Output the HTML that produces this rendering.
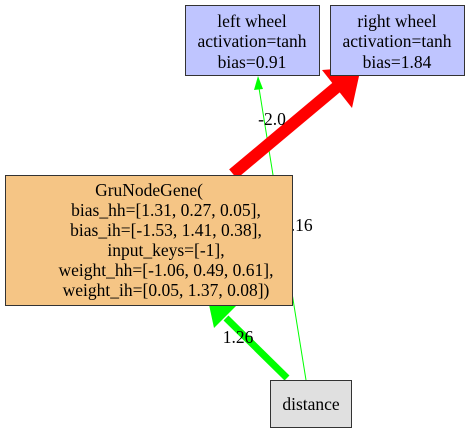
<!DOCTYPE html>
<html><head><meta charset="utf-8"><style>
html,body{margin:0;padding:0;background:#fff;width:471px;height:433px;overflow:hidden}
svg text{font-family:"Liberation Serif",serif;font-size:17.5px;fill:#000}
</style></head><body>
<svg width="471" height="433" viewBox="0 0 471 433">
<g>
<line x1="306" y1="380" x2="259" y2="88" stroke="#00ff00" stroke-width="1"/>
<polygon points="258,76 254,90 263,89" fill="#00ff00"/>
<text x="282" y="231">1.16</text>
</g>
<g>
<line x1="233" y1="174" x2="338" y2="86" stroke="#ff0000" stroke-width="12"/>
<polygon points="361,67 322,70 352,108" fill="#ff0000"/>
<text x="272" y="125" text-anchor="middle">-2.0</text>
</g>
<g>
<line x1="287" y1="378" x2="226" y2="318" stroke="#00ff00" stroke-width="7"/>
<polygon points="208,300 214,328 236,306" fill="#00ff00"/>
<text x="238" y="343" text-anchor="middle">1.26</text>
</g>
<g>
<rect x="185.5" y="5.5" width="134" height="70" fill="#bfc5ff" stroke="#333" stroke-width="1"/>
<text x="252" y="27" text-anchor="middle">left wheel</text>
<text x="252" y="47" text-anchor="middle">activation=tanh</text>
<text x="252" y="68" text-anchor="middle">bias=0.91</text>
</g>
<g>
<rect x="330.5" y="5.5" width="134" height="70" fill="#bfc5ff" stroke="#333" stroke-width="1"/>
<text x="397" y="27" text-anchor="middle">right wheel</text>
<text x="397" y="47" text-anchor="middle">activation=tanh</text>
<text x="397" y="68" text-anchor="middle">bias=1.84</text>
</g>
<g>
<rect x="5.5" y="175.5" width="287" height="130" fill="#f5c585" stroke="#333" stroke-width="1"/>
<text x="149" y="196" text-anchor="middle">GruNodeGene(</text>
<text x="166" y="216" text-anchor="middle">bias_hh=[1.31, 0.27, 0.05],</text>
<text x="166" y="236" text-anchor="middle">bias_ih=[-1.53, 1.41, 0.38],</text>
<text x="166" y="256" text-anchor="middle">input_keys=[-1],</text>
<text x="166" y="276" text-anchor="middle">weight_hh=[-1.06, 0.49, 0.61],</text>
<text x="166" y="296" text-anchor="middle">weight_ih=[0.05, 1.37, 0.08])</text>
</g>
<g>
<rect x="270.5" y="380.5" width="81" height="47" fill="#e0e0e0" stroke="#333" stroke-width="1"/>
<text x="311" y="410" text-anchor="middle">distance</text>
</g>
</svg>
</body></html>
